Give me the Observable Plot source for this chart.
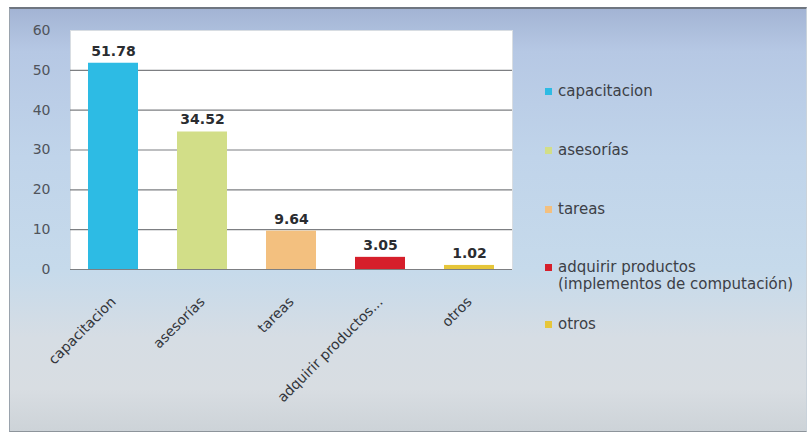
<!DOCTYPE html>
<html>
<head>
<meta charset="utf-8">
<script src="https://cdn.jsdelivr.net/npm/d3@7"></script>
<script src="https://cdn.jsdelivr.net/npm/@observablehq/plot@0.6"></script>
<style>
  html, body { margin: 0; padding: 0; background: #ffffff; }
  #wrap { position: relative; width: 812px; height: 434px; overflow: hidden; font-family: "DejaVu Sans", sans-serif; }
  #panel { position: absolute; left: 9px; top: 7px; width: 798px; height: 425px; box-sizing: border-box;
    border-top: 2px solid #6f7680; border-left: 1px solid #9aa3ad; border-right: 1px solid #c9d2da; border-bottom: 1px solid #8d949b;
    background: linear-gradient(to bottom, #a3b4d4 0%, #b6c8e4 10%, #c0d4ea 35%, #c6daeb 62%, #d6dde4 78%, #d8dde2 90%, #cdd3d8 100%); }
  #chart { position: absolute; left: 0; top: 0; }
  #legend { position: absolute; left: 545px; top: 0; font-size: 15px; color: #3c4046; }
  .item { position: absolute; white-space: nowrap; line-height: 17px; }
  .sw { position: absolute; left: 0; width: 7px; height: 7px; top: 5px; }
  .lab { position: absolute; left: 13px; top: 0; }
</style>
</head>
<body>
<div id="wrap">
  <div id="panel"></div>
  <div id="chart"></div>
  <div id="legend"></div>
</div>
<script>
const categories = ["capacitacion", "asesorías", "tareas", "adquirir productos...", "otros"];
const values = [51.78, 34.52, 9.64, 3.05, 1.02];
const valueLabels = ["51.78", "34.52", "9.64", "3.05", "1.02"];
const colors = ["#2dbbe4", "#d2de88", "#f3c07f", "#d61f2b", "#e6c63a"];
const legendLabels = ["capacitacion", "asesorías", "tareas", "adquirir productos\n(implementos de computación)", "otros"];
const legendTops = [83, 142, 201, 259, 316];
const yTicks = [0, 10, 20, 30, 40, 50, 60];

const data = categories.map((c, i) => ({cat: c, value: values[i], label: valueLabels[i], color: colors[i]}));

const chart = Plot.plot({
  width: 812,
  height: 434,
  marginLeft: 70,
  marginRight: 300,
  marginTop: 30,
  marginBottom: 165,
  style: {background: "transparent", fontFamily: "'DejaVu Sans', sans-serif", color: "#3a3e44"},
  x: {domain: categories, paddingInner: 0.44, paddingOuter: 0.2, label: null},
  y: {domain: [0, 60], label: null},
  marks: [
    Plot.frame({fill: "white", stroke: "#d8dde2"}),
    Plot.gridY(yTicks.slice(0, 6), {stroke: "#7d7f82", strokeOpacity: 1, strokeWidth: 1.2}),
    Plot.barY(data, {x: "cat", y: "value", fill: "color"}),
    Plot.text(data, {x: "cat", y: "value", text: "label", dy: -12, fontSize: 14, fontWeight: "bold", fill: "#2a2c30"}),
    Plot.axisY({ticks: yTicks, tickSize: 0, tickPadding: 20, fontSize: 14, fill: "#50545b"}),
    Plot.axisX({tickSize: 0, tickRotate: -45, tickPadding: 30, fontSize: 14, fill: "#33363b"})
  ]
});
document.getElementById("chart").appendChild(chart);

const legend = document.getElementById("legend");
legendLabels.forEach((l, i) => {
  const item = document.createElement("div");
  item.className = "item";
  item.style.top = legendTops[i] + "px";
  const sw = document.createElement("div");
  sw.className = "sw";
  sw.style.background = colors[i];
  const lab = document.createElement("div");
  lab.className = "lab";
  lab.innerHTML = l.split("\n").join("<br>");
  item.appendChild(sw);
  item.appendChild(lab);
  legend.appendChild(item);
});
</script>
</body>
</html>
